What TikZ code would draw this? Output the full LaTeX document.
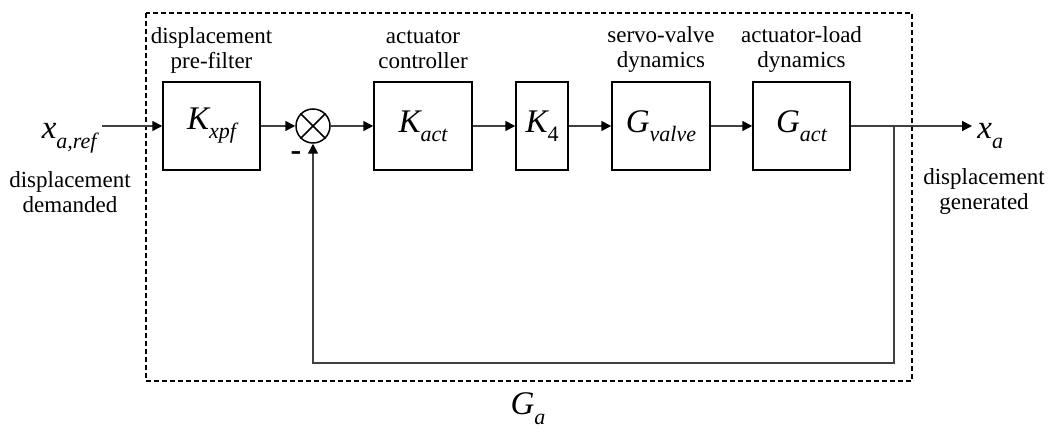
\documentclass[tikz,border=0pt]{standalone}
\usepackage{fontspec}
\setmainfont{Liberation Serif}
\usetikzlibrary{arrows.meta}

% 斜体变量加下标: {字母}{下标}{下沉量}
\newcommand{\tf}[3]{{\fontsize{16.5}{18}\selectfont\itshape #1}{\fontsize{11}{12}\selectfont\raisebox{-#3}{\itshape #2}}}

\begin{document}
\begin{tikzpicture}[x=0.5pt, y=0.5pt,
    box/.style={draw, line width=0.75pt, inner sep=0pt, minimum height=44pt},
    lbl/.style={align=center, font=\fontsize{11.5}{12.5}\selectfont},
    ln/.style={draw=black!75, line width=0.75pt},
    arr/.style={ln, -{Triangle[length=5pt, width=5pt, color=black]}}]
    \useasboundingbox (0,0) rectangle (1055,432);

    % 虚线框 G_a
    \draw[line width=1pt, dash pattern=on 2.5pt off 1.5pt] (146,419) rectangle (912,51);
    \node[anchor=base, inner sep=0pt] (ga) at (528,17) {\tf{G}{a}{5pt}};

    % 方框与求和点
    \node[box, minimum width=48.5pt] (kxpf) at (211.5,306) {\tf{K}{xpf}{4.5pt}};
    \node[draw, circle, line width=0.75pt, minimum size=17pt, inner sep=0pt] (sum) at (313,306) {};
    \draw[line width=0.75pt] (sum.north west) -- (sum.south east)
        (sum.north east) -- (sum.south west);
    \node[box, minimum width=49pt] (kact) at (423,306) {\tf{K}{act}{4.5pt}};
    \node[box, minimum width=26pt] (k4) at (542,306) {\tf{K}{\upshape 4}{4.5pt}};
    \node[box, minimum width=49pt] (gvalve) at (661,306) {\tf{G}{valve}{4.5pt}};
    \node[box, minimum width=48.5pt] (gact) at (801.5,306) {\tf{G}{act}{4.5pt}};

    % 方框上方说明
    \node[lbl] (lxpf) at (211.5,382) {displacement\\pre-filter};
    \node[lbl] (lact) at (423,382) {actuator\\controller};
    \node[lbl] (lvalve) at (661,382) {servo-valve\\dynamics};
    \node[lbl] (lload) at (801.5,382) {actuator-load\\dynamics};

    % 输入与输出
    \node[anchor=base east, inner sep=0pt] (xref) at (97,293) {\tf{x}{a,ref}{5pt}};
    \node[lbl] (dem) at (70,240) {displacement\\demanded};
    \node[anchor=base west, inner sep=0pt] (xa) at (977,293) {\tf{x}{a}{5pt}};
    \node[lbl] (gen) at (984,240) {displacement\\generated};
    \node[font=\fontsize{16}{16}\selectfont\bfseries] (minus) at (296,276) {-};

    % 连线
    \coordinate (br) at (894,306);
    \coordinate (fb) at (894,69);
    \draw[arr] ([xshift=2.5pt]xref.east |- kxpf.west) -- (kxpf.west);
    \draw[arr] (kxpf.east) -- (sum.west);
    \draw[arr] (sum.east) -- (kact.west);
    \draw[arr] (kact.east) -- (k4.west);
    \draw[arr] (k4.east) -- (gvalve.west);
    \draw[arr] (gvalve.east) -- (gact.west);
    \draw[ln] (gact.east) -- (br);
    \draw[arr] (br) -- ([xshift=-2.5pt]xa.west |- br);
    \draw[arr] (br) -- (fb) -| (sum.south);
\end{tikzpicture}
\end{document}
